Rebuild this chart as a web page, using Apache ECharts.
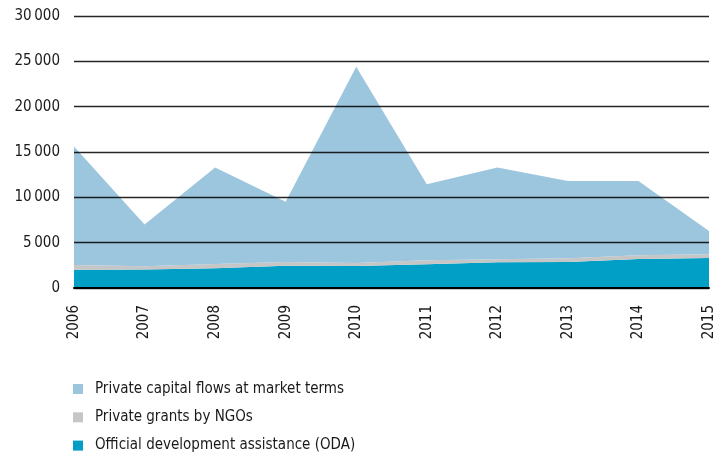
<!DOCTYPE html>
<html lang="en">
<head>
    <meta charset="UTF-8">
    <title>Flows</title>
    <script src="https://cdn.jsdelivr.net/npm/echarts@6/dist/echarts.min.js"></script>
    <style>
        html, body { margin: 0; padding: 0; background: #fff; }
    </style>
</head>
<body>
<div id="main" style="width: 718px; height: 455px;"></div>

<script type="text/javascript">

    const years = ['2006', '2007', '2008', '2009', '2010', '2011', '2012', '2013', '2014', '2015']
    const oda = [2000, 2050, 2170, 2460, 2430, 2610, 2830, 2870, 3200, 3300]
    const ngoGrants = [550, 350, 480, 410, 330, 440, 330, 400, 400, 410]
    const privateCapital = [13050, 4600, 10650, 6630, 21640, 8400, 10140, 8530, 8200, 2590]
    const legendNames = ['Private capital flows at market terms', 'Private grants by NGOs', 'Official development assistance (ODA)']

    const font = '"DejaVu Sans Condensed", "Liberation Sans", sans-serif'

    let chart = echarts.init(document.getElementById('main'))

    function area(name, data, color) {
        return {
            name: name,
            type: 'line',
            stack: 'total',
            data: data,
            symbol: 'none',
            lineStyle: { width: 0 },
            areaStyle: { color: color, opacity: 1 },
            itemStyle: { color: color },
            z: 2
        }
    }

    // one legend per row, stacked like the original
    const legends = legendNames.map((name, i) => ({
        orient: 'vertical',
        left: 68,
        top: 375 + i * 28.3,
        icon: 'rect',
        itemWidth: 10,
        itemHeight: 10,
        data: [name],
        textStyle: { fontFamily: font, fontSize: 15, color: '#1a1a1a', lineHeight: 18, padding: [0, 0, 0, 7] }
    }))

    chart.setOption({
        animation: false,
        grid: { left: 74, right: 9, top: 16, bottom: 167 },
        legend: legends,
        xAxis: {
            type: 'category',
            data: years,
            boundaryGap: false,
            z: 5,
            axisLine: { show: true, onZero: false, lineStyle: { color: '#000', width: 2 } },
            axisTick: { show: false },
            axisLabel: { rotate: 90, margin: 17, fontFamily: font, fontSize: 15, color: '#1a1a1a' }
        },
        yAxis: {
            type: 'value',
            min: 0,
            max: 30000,
            interval: 5000,
            z: 5,
            axisLine: { show: false },
            axisTick: { show: false },
            axisLabel: {
                margin: 14,
                fontFamily: font,
                fontSize: 15,
                color: '#1a1a1a',
                formatter: v => v === 0 ? '0' : (v / 1000) + '\u2009' + '000'
            },
            splitLine: {
                lineStyle: { color: 'rgba(0,0,0,0.85)', width: 1.3 }
            }
        },
        series: [
            area('Official development assistance (ODA)', oda, '#019ec6'),
            area('Private grants by NGOs', ngoGrants, '#c6c6c6'),
            area('Private capital flows at market terms', privateCapital, '#9cc6dd')
        ]
    })

</script>
</body>
</html>
